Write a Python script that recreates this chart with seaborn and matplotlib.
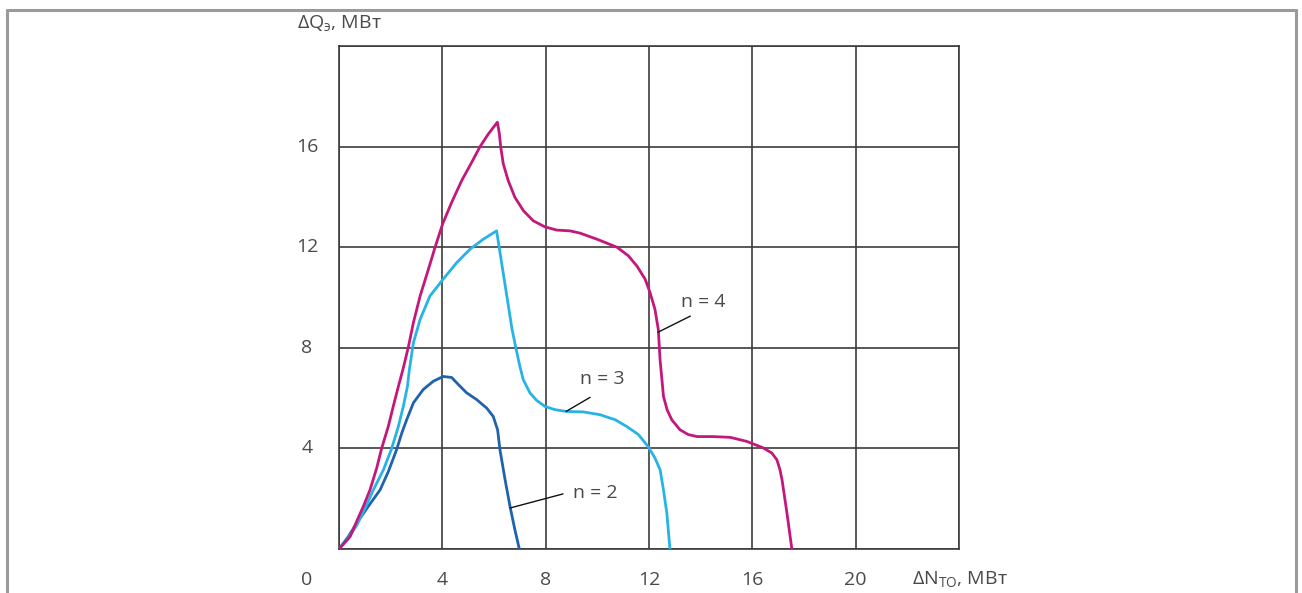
import numpy as np
import pandas as pd
import matplotlib
matplotlib.use("Agg")
import matplotlib.pyplot as plt
from matplotlib.lines import Line2D
import seaborn as sns

# ---- data ----
n4_x = [0, 0.43, 0.68, 0.94, 1.2, 1.46, 1.65, 1.91, 2.1, 2.3, 2.49, 2.68, 2.88, 3.14,
        3.46, 3.72, 4.01, 4.36, 4.75, 5.14, 5.46, 5.78, 6.13,
        6.21, 6.26, 6.36, 6.55, 6.81, 7.14, 7.52, 7.97, 8.43, 8.94, 9.33, 9.98, 10.76,
        11.2, 11.54, 11.85, 12.04, 12.23, 12.36, 12.43, 12.5, 12.56, 12.7, 12.88, 13.2,
        13.52, 13.86, 14.48, 15.14, 15.78, 16.4, 16.75, 16.95, 17.07, 17.15, 17.34,
        17.53]
n4_y = [0, 0.49, 1.09, 1.69, 2.35, 3.22, 4.0, 4.88, 5.67, 6.47, 7.2, 8.01, 9.0, 10.06,
        11.12, 12.0, 12.92, 13.78, 14.65, 15.38, 16.0, 16.5, 16.97,
        16.5, 15.98, 15.31, 14.65, 13.98, 13.45, 13.05, 12.81, 12.68, 12.65, 12.56, 12.32,
        12.0, 11.66, 11.24, 10.73, 10.2, 9.53, 8.73, 7.5, 6.74, 6.07, 5.54, 5.14, 4.74,
        4.55, 4.47, 4.47, 4.44, 4.28, 4.03, 3.82, 3.55, 3.15, 2.75, 1.43,
        0]

n3_x = [0, 0.36, 0.68, 1.01, 1.33, 1.72, 2.04, 2.3, 2.49, 2.65, 2.72, 2.88, 3.14,
        3.52, 4.01, 4.56, 5.07, 5.59, 6.1,
        6.7, 6.86, 7.0, 7.13, 7.39, 7.65, 7.97, 8.36, 8.8, 9.46, 10.1, 10.69, 11.14,
        11.59, 11.96, 12.23, 12.43, 12.56, 12.69, 12.81]
n3_y = [0, 0.43, 0.93, 1.62, 2.35, 3.15, 4.0, 4.88, 5.67, 6.47, 7.1, 8.2, 9.13,
        10.06, 10.7, 11.39, 11.92, 12.32, 12.65,
        8.73, 7.93, 7.27, 6.74, 6.21, 5.91, 5.67, 5.54, 5.47, 5.45, 5.34, 5.14, 4.87,
        4.55, 4.08, 3.62, 3.15, 2.35, 1.43, 0]

n2_x = [0, 0.36, 0.68, 1.13, 1.59, 1.91, 2.23, 2.43, 2.62, 2.88, 3.26, 3.65, 4.03,
        4.36, 4.62, 4.94, 5.33, 5.72, 5.97, 6.14, 6.23, 6.43, 6.62, 6.81, 6.98]
n2_y = [0, 0.49, 1.02, 1.69, 2.35, 3.08, 3.95, 4.61, 5.14, 5.81, 6.34, 6.67, 6.86,
        6.82, 6.54, 6.21, 5.94, 5.6, 5.27, 4.74, 3.95, 2.75, 1.69, 0.76, 0]

series_names = ["n = 2", "n = 3", "n = 4"]
x_ticks = [4, 8, 12, 16, 20]
y_ticks = [4, 8, 12, 16]
x_label = "ΔN$_{\\mathregular{ТО}}$, МВт"
y_label = "ΔQ$_{\\mathregular{э}}$, МВт"

# leader lines (start on curve, end near label) and label positions
label_pos = {"n = 2": (9.91, 2.23), "n = 3": (10.18, 6.74), "n = 4": (14.09, 9.84)}
leader = {"n = 2": ((6.62, 1.63), (8.67, 2.19)),
          "n = 3": ((8.79, 5.47), (9.72, 6.03)),
          "n = 4": ((12.35, 8.62), (13.6, 9.26))}

colors = {"n = 2": "#1f62ad", "n = 3": "#27b3e6", "n = 4": "#c4177c"}

df = pd.concat([
    pd.DataFrame({"x": n2_x, "y": n2_y, "n": "n = 2"}),
    pd.DataFrame({"x": n3_x, "y": n3_y, "n": "n = 3"}),
    pd.DataFrame({"x": n4_x, "y": n4_y, "n": "n = 4"}),
])

sns.set_style("white")
plt.rcParams["font.family"] = ["Open Sans", "DejaVu Sans"]
plt.rcParams["mathtext.fontset"] = "custom"
plt.rcParams["mathtext.rm"] = "Open Sans"
plt.rcParams["mathtext.it"] = "Open Sans"
plt.rcParams["mathtext.bf"] = "Open Sans"

fig = plt.figure(figsize=(13.02, 5.93), dpi=100)
W, H = 1302, 593
ax = fig.add_axes([339 / W, 1 - 549 / H, 620 / W, 503 / H])

sns.lineplot(data=df, x="x", y="y", hue="n", units="n", estimator=None, sort=False,
             palette=colors, linewidth=2.0, legend=False, ax=ax, zorder=3)
for ln in ax.get_lines():
    ln.set_solid_joinstyle("round")
    ln.set_solid_capstyle("round")

ax.set_xlim(0, 24)
ax.set_ylim(0, 20)
ax.set_xticks(np.arange(0, 25, 4))
ax.set_yticks(np.arange(0, 21, 4))
ax.grid(True, color="#3c3c3c", linewidth=1.2)
ax.tick_params(length=0, labelbottom=False, labelleft=False)
ax.set_xlabel("")
ax.set_ylabel("")
for s in ax.spines.values():
    s.set_color("#3c3c3c")
    s.set_linewidth(1.2)

tc = "#4a4a4a"
fs = 14
for xv in x_ticks:
    ax.text(xv, -1.25, str(xv), ha="center", va="center", fontsize=fs, color=tc, clip_on=False)
for yv in y_ticks:
    ax.text(-1.24, yv, str(yv), ha="center", va="center", fontsize=fs, color=tc, clip_on=False)
ax.text(-1.24, -1.25, "0", ha="center", va="center", fontsize=fs, color=tc, clip_on=False)
ax.text(22.18, -1.2, x_label, ha="left", va="center", fontsize=fs, color=tc, clip_on=False)
ax.text(-1.63, 20.9, y_label, ha="left", va="center", fontsize=fs, color=tc, clip_on=False)

for name in series_names:
    (x0, y0), (x1, y1) = leader[name]
    ax.plot([x0, x1], [y0, y1], color="#111111", linewidth=1.0, zorder=4)
    lx, ly = label_pos[name]
    ax.text(lx, ly, name, ha="center", va="center", fontsize=fs, color=tc)

# outer frame (gray) on left, top and right
fc = "#9a9a9a"
fig.add_artist(Line2D([7 / W, 7 / W], [0, 1 - 10 / H], color=fc, linewidth=2.2, transform=fig.transFigure))
fig.add_artist(Line2D([7 / W, 1296 / W], [1 - 10 / H, 1 - 10 / H], color=fc, linewidth=2.2, transform=fig.transFigure))
fig.add_artist(Line2D([1296 / W, 1296 / W], [0, 1 - 10 / H], color=fc, linewidth=2.2, transform=fig.transFigure))

fig.savefig("out.png", dpi=100)
